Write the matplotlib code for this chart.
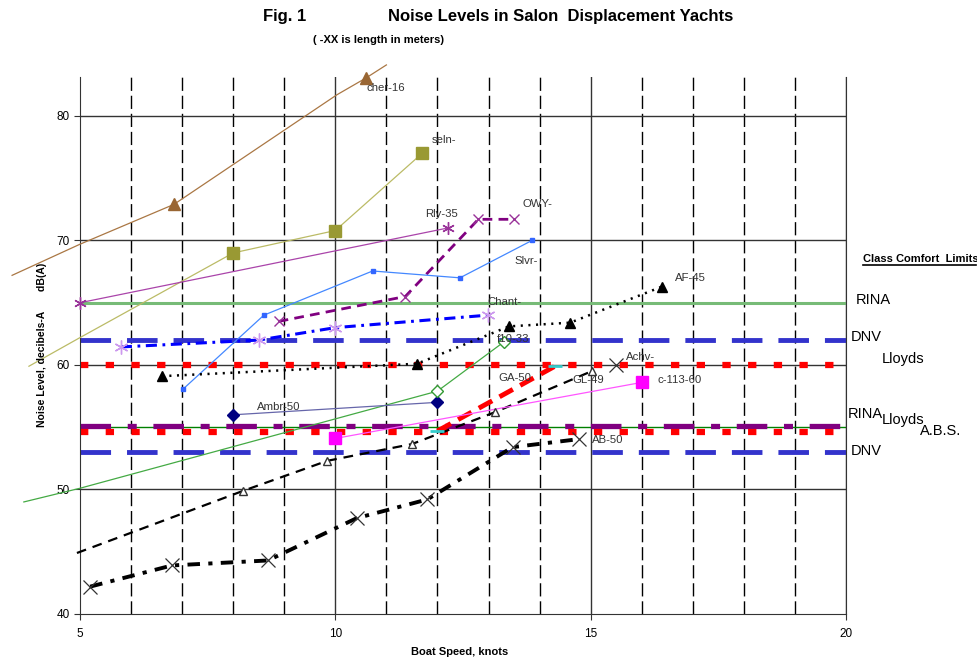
import matplotlib
matplotlib.use("Agg")
import matplotlib.pyplot as plt

plt.rcParams['font.family'] = ['Liberation Sans', 'DejaVu Sans']
plt.rcParams['lines.scale_dashes'] = False

# ---------------- data ----------------
cher_x = [3.67, 5.0, 6.84, 8.0, 10.03, 10.6, 11.0]
cher_y = [67.2, 69.7, 72.9, 76.1, 81.7, 83.05, 84.1]
cher_mx = [6.84, 10.6]
cher_my = [72.9, 83.05]

seln_x = [4.0, 5.0, 8.0, 10.0, 11.7]
seln_y = [59.9, 62.2, 69.0, 70.8, 77.0]
seln_mx = [8.0, 10.0, 11.7]
seln_my = [69.0, 70.8, 77.0]

rly_x = [5.0, 12.2]
rly_y = [65.0, 71.0]

owy_x = [8.89, 11.37, 12.8, 13.5]
owy_y = [63.5, 65.5, 71.7, 71.7]

slvr_x = [7.02, 8.6, 10.73, 12.44, 13.85]
slvr_y = [58.07, 64.0, 67.55, 67.0, 70.0]

chant_x = [5.8, 8.5, 10.0, 12.98]
chant_y = [61.45, 62.0, 63.0, 64.0]

af_x = [6.6, 11.6, 13.4, 14.6, 16.4]
af_y = [59.1, 60.1, 63.1, 63.4, 66.3]

f10_x = [3.9, 5.0, 12.0, 13.3]
f10_y = [49.0, 50.1, 57.9, 61.85]
f10_mx = [12.0, 13.3]
f10_my = [57.9, 61.85]

ambr_x = [8.0, 12.0]
ambr_y = [56.0, 57.0]

ga_x = [12.0, 14.3]
ga_y = [54.7, 59.9]

gl_x = [4.94, 8.2, 9.84, 11.5, 13.12, 15.02]
gl_y = [44.9, 49.9, 52.3, 53.65, 56.2, 59.5]
gl_mx = [8.2, 9.84, 11.5, 13.12, 15.02]
gl_my = [49.9, 52.3, 53.65, 56.2, 59.5]

achv_x = [15.5]
achv_y = [60.0]

c113_x = [10.0, 16.0]
c113_y = [54.1, 58.6]

ab_x = [5.2, 6.8, 8.68, 10.42, 11.8, 13.47, 14.78]
ab_y = [42.2, 43.9, 44.3, 47.7, 49.2, 53.4, 54.05]

# class comfort limits
limit_names_upper = ['RINA', 'DNV', 'Lloyds']
limit_vals_upper = [65.0, 62.0, 60.0]
limit_names_lower = ['RINA', 'Lloyds', 'A.B.S.', 'DNV']
limit_vals_lower = [55.0, 55.1, 54.6, 53.0]

x_ticks = [5, 10, 15, 20]
y_ticks = [40, 50, 60, 70, 80]
x_dashed = [6, 7, 8, 9, 11, 12, 13, 14, 16, 17, 18, 19]

# ---------------- figure ----------------
fig = plt.figure(figsize=(9.78, 6.58), dpi=100)
ax = fig.add_axes([80/978, 44/658, 766/978, 537/658])
ax.set_xlim(5, 20)
ax.set_ylim(40, 83.13)

# grid
for xv in x_dashed:
    ax.axvline(xv, color='black', lw=1.0, ls=(0, (9.5, 3.5)), zorder=1)
for xv in x_ticks[1:]:
    ax.axvline(xv, color='#333333', lw=1.0, zorder=1)
for yv in y_ticks[1:]:
    ax.axhline(yv, color='#333333', lw=1.0, zorder=1)

ax.spines['top'].set_visible(False)
for s in ['right', 'left', 'bottom']:
    ax.spines[s].set_color('#333333')
ax.set_xticks(x_ticks)
ax.set_yticks(y_ticks)
ax.tick_params(direction='out', length=4, labelsize=8.5, colors='#333333', labelcolor='black')
ax.tick_params(axis='x', pad=6)
ax.tick_params(axis='y', pad=3.5)

# limits
ax.axhline(limit_vals_upper[0], color='#77bb77', lw=2.2, zorder=2)
ax.axhline(limit_vals_upper[1], color='#3333cc', lw=3.5, ls=(0, (22, 11.5)), zorder=2)
ax.axhline(limit_vals_upper[2], color='#ff0000', lw=4.5, ls=(0, (6, 12.5)), zorder=2)
ax.axhline(limit_vals_lower[0], color='#008000', lw=1.0, zorder=2)
ax.axhline(limit_vals_lower[1], color='#800080', lw=3.8, ls=(0, (22, 12, 6.5, 12)), zorder=2)
ax.axhline(limit_vals_lower[2], color='#ff0000', lw=4.5, ls=(0, (6, 12.5)), zorder=2)
ax.axhline(limit_vals_lower[3], color='#3333cc', lw=3.5, ls=(0, (22, 11.5)), zorder=2)

# series
ax.plot(cher_x, cher_y, color='#aa7744', lw=0.9, clip_on=False, zorder=3)
ax.plot(cher_mx, cher_my, ls='none', marker='^', ms=9, color='#996633', clip_on=False, zorder=4)

ax.plot(seln_x, seln_y, color='#bbbb66', lw=0.9, clip_on=False, zorder=3)
ax.plot(seln_mx, seln_my, ls='none', marker='s', ms=8.5, color='#999933', zorder=4)

ax.plot(rly_x, rly_y, color='#aa44aa', lw=0.9, marker=(6, 2, 0), ms=9, mec='#993399', mew=1.0, clip_on=False, zorder=3)

ax.plot(owy_x, owy_y, color='#800080', lw=2.0, ls=(0, (7, 4.5)), marker='x', ms=7, mec='#993399', mew=1.0, zorder=3)

ax.plot(slvr_x, slvr_y, color='#4488ff', lw=0.9, marker='s', ms=3, mec='#3366ff', mfc='#3366ff', zorder=3)

ax.plot(chant_x, chant_y, color='#0000ff', lw=2.2, ls=(0, (8, 4, 2, 4)), zorder=3)
ax.plot(chant_x, chant_y, ls='none', marker=(6, 2, 0), ms=10, mec='#cc99ee', mew=1.0, zorder=4)

ax.plot(af_x, af_y, color='black', lw=1.8, ls=(0, (1.5, 4)), marker='^', ms=7, zorder=3)

ax.plot(f10_x, f10_y, color='#44aa44', lw=0.9, clip_on=False, zorder=3)
ax.plot(f10_mx, f10_my, ls='none', marker='D', ms=6, mfc='white', mec='#339933', zorder=4)

ax.plot(ambr_x, ambr_y, color='#6666aa', lw=0.9, marker='D', ms=6, mfc='#000080', mec='#000080', zorder=3)

ax.plot(ga_x, ga_y, color='#ff0000', lw=3.5, ls=(0, (11, 6)), zorder=3)
ax.plot(ga_x, ga_y, ls='none', marker='_', ms=10, mew=2, color='#33cccc', zorder=4)

ax.plot(gl_x, gl_y, color='black', lw=1.6, ls=(0, (7, 5)), clip_on=False, zorder=3)
ax.plot(gl_mx, gl_my, ls='none', marker='^', ms=6, mfc='white', mec='#333333', zorder=4)

ax.plot(achv_x, achv_y, ls='none', marker='x', ms=10, mew=0.9, color='#333333', zorder=4)

ax.plot(c113_x, c113_y, color='#ff55ff', lw=0.9, marker='s', ms=8, mfc='#ff00ff', mec='#ff00ff', zorder=3)

ax.plot(ab_x, ab_y, color='black', lw=2.8, ls=(0, (9, 6, 3, 6)), zorder=3)
ax.plot(ab_x, ab_y, ls='none', marker='x', ms=10, mew=0.9, color='#333333', zorder=4)

# series labels
lab = dict(fontsize=8.2, color='#333333', va='center', ha='left', zorder=5)
ax.text(10.62, 82.25, 'cher-16', **lab)
ax.text(11.89, 78.07, 'seln-', **lab)
ax.text(11.75, 72.1, 'Rly-35', **lab)
ax.text(13.67, 72.9, 'OWY-', **lab)
ax.text(13.51, 68.35, 'Slvr-', **lab)
ax.text(12.98, 65.05, 'Chant-', **lab)
ax.text(16.66, 67.0, 'AF-45', **lab)
ax.text(13.16, 62.1, 'f10-33', **lab)
ax.text(8.46, 56.6, 'Ambr-50', **lab)
ax.text(13.2, 58.95, 'GA-50', **lab)
ax.text(14.65, 58.8, 'GL-49', **lab)
ax.text(15.7, 60.65, 'Achv-', **lab)
ax.text(16.31, 58.8, 'c-113-60', **lab)
ax.text(15.02, 53.98, 'AB-50', **lab)

# axis labels and titles
fig.text(460/978, 1 - 652/658, 'Boat Speed, knots', fontsize=8, fontweight='bold', ha='center', va='center')
fig.text(42/978, 1 - 345/658, 'Noise Level, decibels-A       dB(A)', fontsize=7.5, fontweight='bold',
         rotation=90, ha='center', va='center')
fig.text(263/978, 1 - 17/658, 'Fig. 1', fontsize=12, fontweight='bold', ha='left', va='center')
fig.text(388/978, 1 - 17/658, 'Noise Levels in Salon  Displacement Yachts', fontsize=12,
         fontweight='bold', ha='left', va='center')
fig.text(313/978, 1 - 40/658, '( -XX is length in meters)', fontsize=8, fontweight='bold', ha='left', va='center')

fig.text(863/978, 1 - 259/658, 'Class Comfort  Limits', fontsize=8, fontweight='bold', ha='left', va='center')
fig.add_artist(plt.Line2D([863/978, 976/978], [1 - 265/658, 1 - 265/658], color='black', lw=1.2))

lim = dict(fontsize=10.5, color='black', ha='left', va='center')
fig.text(856/978, 1 - 300/658, limit_names_upper[0], **lim)
fig.text(851/978, 1 - 337/658, limit_names_upper[1], **lim)
fig.text(882/978, 1 - 359/658, limit_names_upper[2], **lim)
fig.text(848/978, 1 - 414/658, limit_names_lower[0], **lim)
fig.text(882/978, 1 - 420/658, limit_names_lower[1], **lim)
fig.text(920/978, 1 - 431/658, limit_names_lower[2], **lim)
fig.text(851/978, 1 - 451/658, limit_names_lower[3], **lim)

fig.savefig('out.png', dpi=100)
